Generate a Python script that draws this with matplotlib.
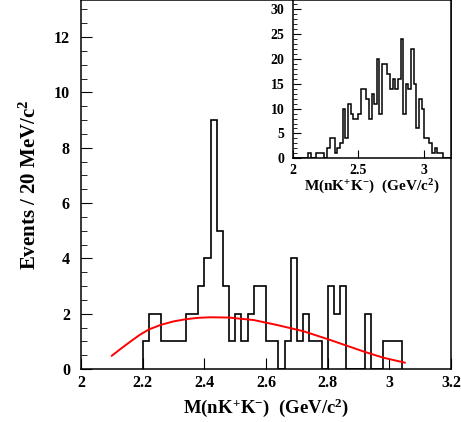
import numpy as np
import matplotlib
matplotlib.use("Agg")
import matplotlib.pyplot as plt
from matplotlib.ticker import MultipleLocator

plt.rcParams['font.family'] = ['Liberation Serif', 'DejaVu Serif']
plt.rcParams['font.weight'] = 'bold'
plt.rcParams['axes.labelweight'] = 'bold'
plt.rcParams['mathtext.fontset'] = 'custom'
plt.rcParams['mathtext.rm'] = 'Liberation Serif:bold'
plt.rcParams['mathtext.bf'] = 'Liberation Serif:bold'
plt.rcParams['mathtext.it'] = 'Liberation Serif:bold'
plt.rcParams['mathtext.default'] = 'rm'

# ---------------- data ----------------
# main histogram: 20 MeV bins starting at 2.20 GeV
main_start = 2.20
bin_width = 0.02
main_counts = [1, 2, 2, 1, 1, 1, 1, 2, 2, 3, 4, 9, 5, 3, 1, 2, 1, 2, 3, 3,
               1, 1, 0, 1, 4, 1, 2, 1, 1, 0, 3, 2, 3, 0, 0, 0, 2, 0, 0, 1,
               1, 1]

# fitted background curve
curve_x = [2.10, 2.13, 2.16, 2.19, 2.22, 2.26, 2.30, 2.34, 2.38, 2.42, 2.48, 2.56,
           2.64, 2.72, 2.80, 2.86, 2.92, 2.98, 3.05]
curve_y = [0.48, 0.74, 0.99, 1.23, 1.43, 1.60, 1.72, 1.80, 1.85, 1.87, 1.86, 1.77,
           1.58, 1.37, 1.08, 0.85, 0.62, 0.41, 0.23]

# inset histogram: 20 MeV bins starting at 2.00 GeV
inset_start = 2.00
inset_counts = [0, 0, 0, 0, 0, 0, 1, 0, 0, 1, 1, 1, 0, 2, 4, 4, 1, 2, 3, 10,
                4, 11, 9, 8, 8, 9, 14, 14, 12, 8, 13, 11, 20, 9, 19, 19, 17, 14, 16, 14,
                16, 24, 9, 15, 14, 22, 15, 6, 12, 10, 4, 4, 3, 1, 2, 1, 1, 0, 0, 0]

xlabel = r'M(nK$^{+}$K$^{-}$)  (GeV/c$^{2}$)'
ylabel = r'Events / 20 MeV/c$^{2}$'

# ---------------- figure ----------------
W, H = 461, 422
fig = plt.figure(figsize=(W / 100, H / 100), dpi=100)

def frac(l, r, t, b):
    return [l / W, 1 - b / H, (r - l) / W, (b - t) / H]

fmt = plt.FuncFormatter(lambda v, p: ('%g' % round(v, 2)))

ax = fig.add_axes(frac(81, 451, 0, 369))
main_edges = main_start + bin_width * np.arange(len(main_counts) + 1)
ax.stairs(main_counts, main_edges, color='black', linewidth=1.2, baseline=0)
ax.plot(curve_x, curve_y, color='red', linewidth=1.4)
ax.set_xlim(2.0, 3.2)
ax.set_ylim(0, 13.34)
ax.xaxis.set_major_locator(MultipleLocator(0.2))
ax.yaxis.set_major_locator(MultipleLocator(2))
ax.yaxis.set_minor_locator(MultipleLocator(0.5))
ax.xaxis.set_major_formatter(fmt)
ax.tick_params(axis='both', which='both', direction='in', top=False, right=False,
               labelsize=11.5)
ax.tick_params(axis='y', which='major', length=8, pad=8)
ax.tick_params(axis='y', which='minor', length=4)
ax.tick_params(axis='x', which='major', length=8, pad=4)
for s in ax.spines.values():
    s.set_linewidth(1.1)
ax.set_xlabel(xlabel, fontsize=13.5, fontweight='bold', labelpad=4)
ax.set_ylabel(ylabel, fontsize=15, fontweight='bold', labelpad=9)

# inset
axi = fig.add_axes(frac(292.7, 450.5, 0, 158.3))
inset_edges = inset_start + bin_width * np.arange(len(inset_counts) + 1)
axi.stairs(inset_counts, inset_edges, color='black', linewidth=1.1, baseline=0)
axi.set_xlim(2.0, 3.2)
axi.set_ylim(0, 31.87)
axi.xaxis.set_major_locator(MultipleLocator(0.5))
axi.yaxis.set_major_locator(MultipleLocator(5))
axi.yaxis.set_minor_locator(MultipleLocator(1))
axi.xaxis.set_major_formatter(fmt)
axi.tick_params(axis='both', which='both', direction='in', top=False, right=False,
                labelsize=10)
axi.tick_params(axis='y', which='major', length=6, pad=6)
axi.tick_params(axis='y', which='minor', length=3)
axi.tick_params(axis='x', which='major', length=6, pad=4)
for s in axi.spines.values():
    s.set_linewidth(1.1)
axi.set_xlabel(xlabel, fontsize=11, fontweight='bold', labelpad=1)

fig.canvas.draw()
for a in (ax, axi):
    for lab in a.get_xticklabels() + a.get_yticklabels():
        lab.set_fontweight('bold')

fig.savefig('out.png', dpi=100)
